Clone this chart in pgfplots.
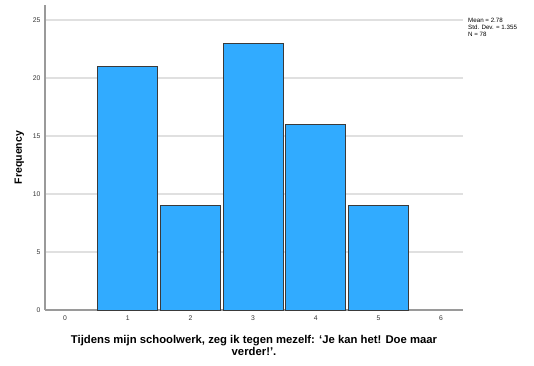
\documentclass[border=0pt]{standalone}
\usepackage{pgfplots}
\pgfplotsset{compat=1.18}
\usepackage{fontspec}
\setmainfont{Liberation Sans}
\definecolor{barfill}{HTML}{31ABFF}
\definecolor{baredge}{HTML}{3A3A3A}
\definecolor{gridc}{HTML}{E0E0E0}
\definecolor{axc}{HTML}{9A9A9A}
\begin{document}
\begin{tikzpicture}[x=1pt,y=1pt]
\useasboundingbox (-45,-55) rectangle (489,310);
\begin{axis}[
  at={(0,0)}, anchor=south west,
  scale only axis, width=418pt, height=305pt,
  xmin=-0.32, xmax=6.35, ymin=0, ymax=26.3,
  axis x line*=bottom, axis y line*=left,
  axis line style={axc, line width=1.2pt, -},
  xtick={0,1,2,3,4,5,6}, ytick={0,5,10,15,20,25},
  major tick length=0pt,
  ymajorgrids, grid style={gridc, line width=1.2pt},
  tick label style={font=\fontsize{6.8}{7}\selectfont, text=black!80},
  /pgf/number format/assume math mode=true,
  xticklabel style={yshift=-2pt},
  yticklabel style={xshift=-1pt},
  xlabel={Tijdens mijn schoolwerk, zeg ik tegen mezelf: `Je kan het! Doe maar\\ verder!'.},
  xlabel style={font=\fontsize{11.3}{12}\selectfont\bfseries, align=center, yshift=-8pt},
  ylabel={Frequency},
  ylabel style={font=\fontsize{10.5}{11.5}\selectfont\bfseries, yshift=2pt},
  clip=false,
]
\addplot[ybar, bar width=0.955, fill=barfill, draw=baredge, line width=0.8pt]
  coordinates {(1,21) (2,9) (3,23) (4,16) (5,9)};
\end{axis}
\node[anchor=north west, align=left, font=\fontsize{6.2}{7.2}\selectfont, inner sep=0pt] at (423,292)
  {Mean = 2.78\\Std. Dev. = 1.355\\N = 78};
\end{tikzpicture}
\end{document}
